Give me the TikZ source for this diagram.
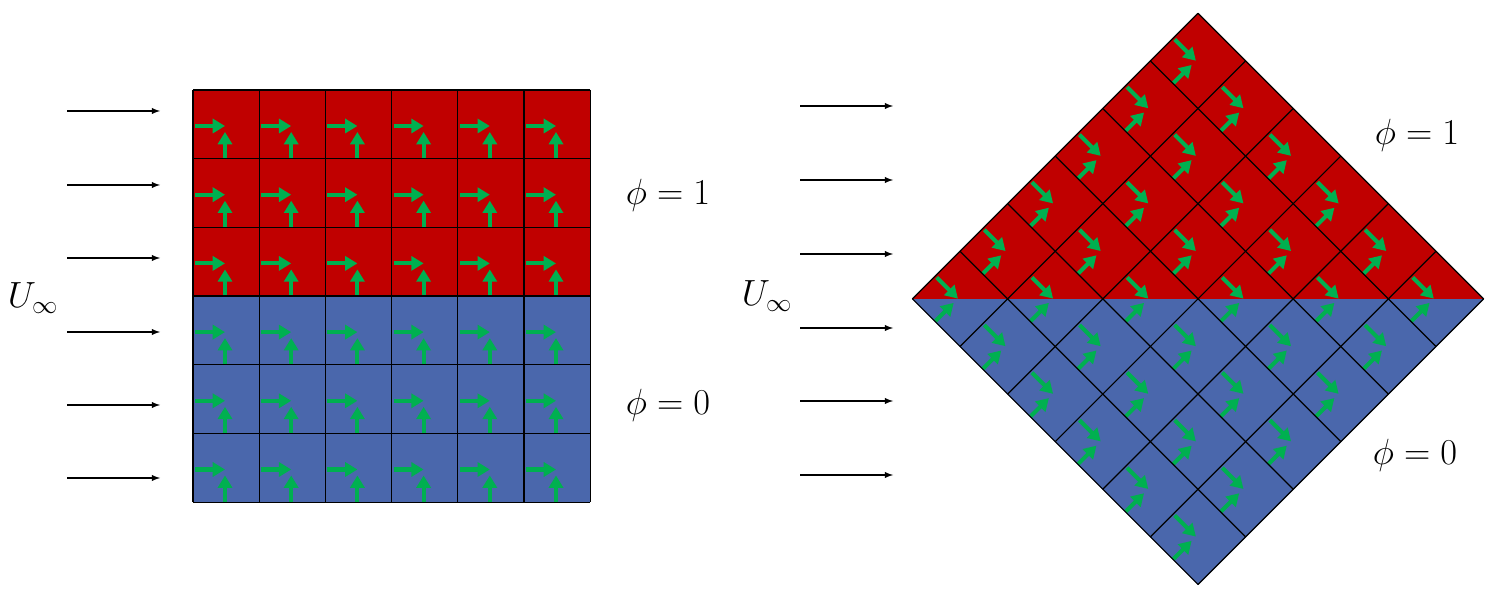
\documentclass[tikz,border=0pt]{standalone}
\usepackage{amsmath}
\usetikzlibrary{arrows.meta}
\definecolor{phired}{RGB}{192,0,0}
\definecolor{phiblue}{RGB}{74,103,172}
\definecolor{vecgreen}{RGB}{0,176,80}
\tikzset{
    flow/.style = {-latex, line width=0.6pt},
    vec/.style = {-{Triangle[length=7pt, width=8pt]}, line width=2.3pt, vecgreen},
    gridline/.style = {line width=0.7pt},
    label/.style = {font=\fontsize{22}{26}\selectfont}
}
\begin{document}
\begin{tikzpicture}[x=0.02cm, y=-0.02cm]
    \useasboundingbox (0,0) rectangle (1500,590);

    % left grid
    \fill[phired] (193,90) rectangle (590,296);
    \fill[phiblue] (193,296) rectangle (590,502);
    \foreach \i in {0,...,5}
        \foreach \j in {0,...,5} {
            \draw[vec] ({193+66.2*\i+2},{90+68.7*\j+36}) -- ++(30,0);
            \draw[vec] ({193+66.2*\i+32},{90+68.7*\j+69}) -- ++(0,-27);
        }
    \foreach \i in {0,...,6} \draw[gridline] ({193+66.2*\i},90) -- ({193+66.2*\i},502);
    \foreach \j in {0,...,6} \draw[gridline] (193,{90+68.7*\j}) -- (590,{90+68.7*\j});
    \foreach \y in {111,185,258,332,405,478} \draw[flow] (67,\y) -- (160,\y);
    \node[label] (uleft) at (33,298) {$U_\infty$};
    \node[label] (pleft1) at (668,195) {$\phi = 1$};
    \node[label] (pleft0) at (668,405) {$\phi = 0$};

    % right grid
    \fill[phiblue] (1198,13) -- (1484,299) -- (1198,585) -- (912,299) -- cycle;
    \fill[phired] (1198,13) -- (1484,299) -- (912,299) -- cycle;
    \begin{scope}[shift={(1198,299)}, rotate=-45]
        \foreach \i in {0,...,5}
            \foreach \j in {0,...,5} {
                \draw[vec] ({-202+67.3*\i+2},{-202+67.3*\j+35}) -- ++(30,0);
                \draw[vec] ({-202+67.3*\i+32},{-202+67.3*\j+67}) -- ++(0,-26);
            }
        \foreach \k in {0,...,6} {
            \draw[gridline] ({-202+67.3*\k},-202) -- ({-202+67.3*\k},202);
            \draw[gridline] (-202,{-202+67.3*\k}) -- (202,{-202+67.3*\k});
        }
    \end{scope}
    \foreach \y in {106,180,254,328,401,475} \draw[flow] (800,\y) -- (893,\y);
    \node[label] (uright) at (767,296) {$U_\infty$};
    \node[label] (pright1) at (1417,135) {$\phi = 1$};
    \node[label] (pright0) at (1415,455) {$\phi = 0$};
\end{tikzpicture}
\end{document}
